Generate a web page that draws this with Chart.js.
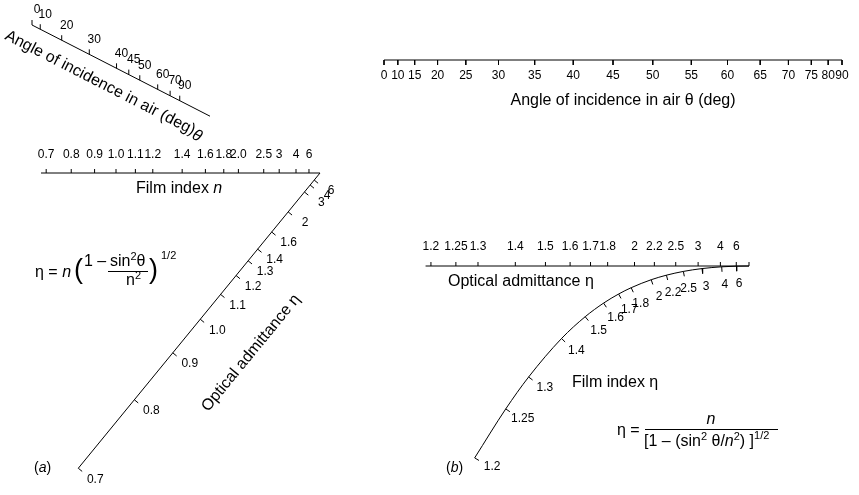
<!DOCTYPE html>
<html>
<head>
<meta charset="utf-8">
<script src="https://cdn.jsdelivr.net/npm/chart.js@4.4.0/dist/chart.umd.min.js"></script>
<style>
html, body { margin: 0; padding: 0; background: #fff; }
canvas { display: block; }
</style>
</head>
<body>
<canvas id="nomo" width="859" height="495"></canvas>
<script>
// tick values
var thetaTicksA = [0, 10, 20, 30, 40, 45, 50, 60, 70, 90];
var nTicksA = [0.7, 0.8, 0.9, 1.0, 1.1, 1.2, 1.4, 1.6, 1.8, 2.0, 2.5, 3, 4, 6];
var nLabelsA = ['0.7', '0.8', '0.9', '1.0', '1.1', '1.2', '1.4', '1.6', '1.8', '2.0', '2.5', '3', '4', '6'];
var etaTicksA = [0.7, 0.8, 0.9, 1.0, 1.1, 1.2, 1.3, 1.4, 1.6, 2, 3, 4, 6];
var etaLabelsA = ['0.7', '0.8', '0.9', '1.0', '1.1', '1.2', '1.3', '1.4', '1.6', '2', '3', '4', '6'];

var thetaTicksB = [0, 10, 15, 20, 25, 30, 35, 40, 45, 50, 55, 60, 65, 70, 75, 80, 90];
var etaTicksB = [1.2, 1.25, 1.3, 1.4, 1.5, 1.6, 1.7, 1.8, 2, 2.2, 2.5, 3, 4, 6];
var nTicksB = [1.2, 1.25, 1.3, 1.4, 1.5, 1.6, 1.7, 1.8, 2, 2.2, 2.5, 3, 4, 6];

// axis ranges (where the axis lines stop)
var nRangeA = [0.68, Infinity];
var etaRangeB = [1.19, Infinity];

var FONT = '"Liberation Sans", Arial, Helvetica, sans-serif';

function sin2(deg) {
	var s = Math.sin(deg * Math.PI / 180);
	return s * s;
}

// ---- nomogram scales, panel (a): eta^2 = n^2 - sin^2(theta)
var thDirA = { x: 0.890, y: 0.456 };
function thA(deg) {
	var u = sin2(deg);
	var s = 166 * 1.9 * u / (1 + 0.9 * u);
	return { x: 32 + thDirA.x * s, y: 25 + thDirA.y * s };
}
function nA(n) {
	return { x: 320 - 408 / (n * n + 1), y: 173 };
}
var etaDirA = { x: -0.6335, y: 0.7738 };
function etaA(e) {
	var d = isFinite(e) ? 185 / (e * e) + 4 : 0;
	return { x: 320 + etaDirA.x * d, y: 173 + etaDirA.y * d };
}

// ---- nomogram scales, panel (b): eta = n / sqrt(1 - sin^2(theta)/n^2)
function thB(deg) {
	return { x: 384 + 458 * sin2(deg), y: 60 };
}
function etaB(e) {
	return { x: 749 - 458 / (e * e), y: 266 };
}
function nB(n) {
	if (!isFinite(n)) return etaB(Infinity);
	var n4 = Math.pow(n, 4), t = n4 / (n4 - 1);
	return { x: (1 - t) * 384 + t * 749 - 458 * t / (n * n), y: 60 + t * 206 };
}
function nBnormal(n) {
	var a = nB(n * 0.999), b = nB(n * 1.001);
	var tx = b.x - a.x, ty = b.y - a.y, l = Math.hypot(tx, ty);
	return { x: -ty / l, y: tx / l };
}

// tick marks as one dataset with gaps
function tickData(values, fn, dirFn, len) {
	var out = [];
	values.forEach(function(v) {
		var p = fn(v), d = dirFn(v);
		out.push({ x: p.x, y: p.y });
		out.push({ x: p.x + d.x * len, y: p.y + d.y * len });
		out.push({ x: null, y: null });
	});
	return out;
}

function lineSet(data, extra) {
	var ds = {
		data: data,
		showLine: true,
		borderColor: '#000',
		borderWidth: 1,
		pointRadius: 0,
		spanGaps: false,
		fill: false
	};
	for (var k in extra) ds[k] = extra[k];
	return ds;
}

var up = function() { return { x: 0, y: -1 }; };
var down = function() { return { x: 0, y: 1 }; };
var etaNormA = function() { return { x: 0.7738, y: 0.6335 }; };

var p0 = thA(0);
var datasets = [
	// panel (a)
	lineSet([p0, { x: p0.x + thDirA.x * 200, y: p0.y + thDirA.y * 200 }]),
	lineSet(tickData(thetaTicksA, thA, up, 5)),
	lineSet([nA(nRangeA[0]), nA(nRangeA[1])]),
	lineSet(tickData(nTicksA, nA, up, 4)),
	lineSet([etaA(Infinity), etaA(etaTicksA[0])]),
	lineSet(tickData(etaTicksA, etaA, etaNormA, 5)),
	// panel (b)
	lineSet([thB(0), thB(90)]),
	lineSet(tickData(thetaTicksB, thB, down, 5)),
	lineSet([etaB(etaRangeB[0]), etaB(etaRangeB[1])]),
	lineSet(tickData(etaTicksB.concat([Infinity]), etaB, up, 4)),
	lineSet(nTicksB.concat([Infinity]).map(nB), { cubicInterpolationMode: 'monotone' }),
	lineSet(tickData(nTicksB, nB, nBnormal, 5))
];

// rich text: runs of {t, it, sz, dy}
function runWidth(ctx, runs, size) {
	var w = 0;
	runs.forEach(function(r) {
		ctx.font = (r.it ? 'italic ' : '') + (r.sz || size) + 'px ' + FONT;
		w += ctx.measureText(r.t).width;
	});
	return w;
}
function drawRuns(ctx, runs, x, y, size, align) {
	var w = runWidth(ctx, runs, size);
	var cx = x;
	if (align === 'center') cx = x - w / 2;
	ctx.textAlign = 'left';
	ctx.textBaseline = 'middle';
	runs.forEach(function(r) {
		ctx.font = (r.it ? 'italic ' : '') + (r.sz || size) + 'px ' + FONT;
		ctx.fillText(r.t, cx, y + (r.dy || 0));
		cx += ctx.measureText(r.t).width;
	});
	return cx;
}

var textPlugin = {
	id: 'nomoText',
	afterDatasetsDraw: function(chart) {
		var ctx = chart.ctx;
		var sx = chart.scales.x, sy = chart.scales.y;
		function px(p) { return { x: sx.getPixelForValue(p.x), y: sy.getPixelForValue(p.y) }; }
		function label(s, p, dx, dy, size) {
			var q = px(p);
			ctx.font = (size || 12) + 'px ' + FONT;
			ctx.textAlign = 'center';
			ctx.textBaseline = 'middle';
			ctx.fillText(s, q.x + dx, q.y + dy);
		}
		ctx.save();
		ctx.fillStyle = '#000';
		ctx.strokeStyle = '#000';
		ctx.lineWidth = 1;

		// ---------- panel (a)
		thetaTicksA.forEach(function(v) { label(String(v), thA(v), 5, -15); });
		nTicksA.forEach(function(v, i) { label(nLabelsA[i], nA(v), 0, -18); });
		etaTicksA.forEach(function(v, i) { label(etaLabelsA[i], etaA(v), 17, 11); });

		// rotated title along the theta axis
		ctx.save();
		ctx.translate(104, 85);
		ctx.rotate(Math.atan2(thDirA.y, thDirA.x));
		drawRuns(ctx, [{ t: 'Angle of incidence in air (deg)' }, { t: '\u03b8', it: true, dy: 3 }], 0, 0, 16, 'center');
		ctx.restore();

		drawRuns(ctx, [{ t: 'Film index ' }, { t: 'n', it: true }], 136, 189, 16, 'left');

		ctx.save();
		ctx.translate(251, 353);
		ctx.rotate(Math.atan2(-etaDirA.y, -etaDirA.x));
		drawRuns(ctx, [{ t: 'Optical admittance \u03b7' }], 0, 0, 16, 'center');
		ctx.restore();

		// formula (a)
		drawRuns(ctx, [{ t: '\u03b7 = ' }, { t: 'n', it: true }], 35, 273, 16, 'left');
		ctx.font = '27px ' + FONT;
		ctx.textBaseline = 'middle';
		ctx.fillText('(', 74, 271);
		ctx.fillText(')', 149, 271);
		drawRuns(ctx, [{ t: '1 \u2013 ' }], 84, 262, 16, 'left');
		drawRuns(ctx, [{ t: 'sin' }, { t: '2', sz: 11, dy: -5 }, { t: '\u03b8' }], 110, 262, 16, 'left');
		ctx.beginPath();
		ctx.moveTo(108, 271.5);
		ctx.lineTo(148, 271.5);
		ctx.stroke();
		drawRuns(ctx, [{ t: 'n' }, { t: '2', sz: 11, dy: -5 }], 126, 281, 16, 'left');
		drawRuns(ctx, [{ t: '1/2' }], 161, 256, 11, 'left');

		drawRuns(ctx, [{ t: '(' }, { t: 'a', it: true }, { t: ')' }], 34, 468, 14, 'left');

		// ---------- panel (b)
		thetaTicksB.forEach(function(v) { label(String(v), thB(v), 0, 16); });
		drawRuns(ctx, [{ t: 'Angle of incidence in air \u03b8 (deg)' }], 623, 101, 16, 'center');
		etaTicksB.forEach(function(v) { label(String(v), etaB(v), 0, -19); });
		drawRuns(ctx, [{ t: 'Optical admittance \u03b7' }], 448, 282, 16, 'left');
		nTicksB.forEach(function(v) {
			var nn = nBnormal(v);
			label(String(v), nB(v), nn.x * 18 + 2, nn.y * 18);
		});
		drawRuns(ctx, [{ t: 'Film index \u03b7' }], 572, 383, 16, 'left');

		// formula (b)
		drawRuns(ctx, [{ t: '\u03b7 = ' }], 617, 431, 16, 'left');
		drawRuns(ctx, [{ t: 'n', it: true }], 711, 420, 16, 'center');
		ctx.beginPath();
		ctx.moveTo(645, 429.5);
		ctx.lineTo(778, 429.5);
		ctx.stroke();
		drawRuns(ctx, [
			{ t: '[1 \u2013 (sin' }, { t: '2', sz: 11, dy: -5 }, { t: ' \u03b8/' },
			{ t: 'n', it: true }, { t: '2', sz: 11, dy: -5 }, { t: ') ]' }, { t: '1/2', sz: 11, dy: -6 }
		], 644, 442, 16, 'left');

		drawRuns(ctx, [{ t: '(' }, { t: 'b', it: true }, { t: ')' }], 446, 468, 14, 'left');

		ctx.restore();
	}
};

var nomo = new Chart(document.getElementById('nomo').getContext('2d'), {
	type: 'scatter',
	data: { datasets: datasets },
	options: {
		responsive: false,
		animation: false,
		devicePixelRatio: 1,
		layout: { padding: 0 },
		plugins: { legend: { display: false }, tooltip: { enabled: false } },
		scales: {
			x: { type: 'linear', min: 0, max: 859, display: false },
			y: { type: 'linear', min: 0, max: 495, reverse: true, display: false }
		}
	},
	plugins: [textPlugin]
});
</script>
</body>
</html>
